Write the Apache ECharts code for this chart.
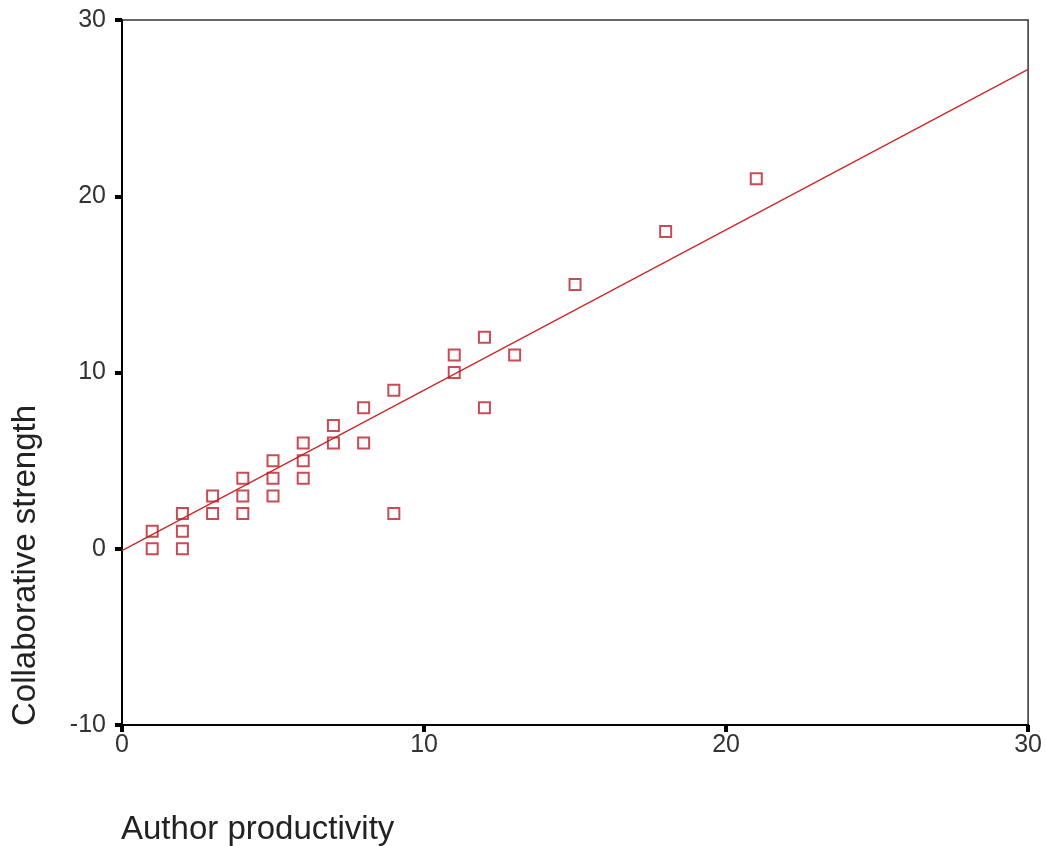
<!DOCTYPE html>
<html>
<head>
<meta charset="utf-8">
<script src="https://cdn.jsdelivr.net/npm/echarts@6/dist/echarts.min.js"></script>
<style>
  html, body { margin: 0; padding: 0; background: #fff; }
  #chart { width: 1045px; height: 846px; }
</style>
</head>
<body>
<div id="chart"></div>
<script>
// author productivity (x) vs collaborative strength (y)
var productivity = [1, 1, 2, 2, 2, 3, 3, 4, 4, 4, 5, 5, 5, 6, 6, 6, 7, 7, 8, 8, 9, 9, 11, 11, 12, 12, 13, 15, 18, 21];
var strength     = [1, 0, 2, 1, 0, 3, 2, 4, 3, 2, 5, 4, 3, 6, 5, 4, 7, 6, 8, 6, 9, 2, 11, 10, 12, 8, 11, 15, 18, 21];

// fitted line ends
var fitX = [0, 30];
var fitY = [-0.1, 27.2];

var xTicks = [0, 10, 20, 30];
var yTicks = [-10, 0, 10, 20, 30];

var points = productivity.map(function (x, i) { return [x, strength[i]]; });
var fitLine = fitX.map(function (x, i) { return [x, fitY[i]]; });

var font = 'Liberation Sans, Arial, sans-serif';

var chart = echarts.init(document.getElementById('chart'));
chart.setOption({
  backgroundColor: '#fff',
  animation: false,
  grid: {
    left: 122, right: 15, top: 20, bottom: 121,
    show: true, borderColor: '#333', borderWidth: 1.5, backgroundColor: 'transparent'
  },
  xAxis: {
    type: 'value',
    min: xTicks[0], max: xTicks[xTicks.length - 1], interval: 10,
    splitLine: { show: false },
    axisLine: { onZero: false, lineStyle: { color: '#000', width: 2 } },
    axisTick: { length: 7, lineStyle: { color: '#000', width: 4 } },
    axisLabel: { color: '#333', fontSize: 25, fontFamily: font, margin: 8 }
  },
  yAxis: {
    type: 'value',
    min: yTicks[0], max: yTicks[yTicks.length - 1], interval: 10,
    splitLine: { show: false },
    axisLine: { onZero: false, lineStyle: { color: '#000', width: 2 } },
    axisTick: { length: 7, lineStyle: { color: '#000', width: 4 } },
    axisLabel: { color: '#333', fontSize: 25, fontFamily: font, margin: 16 }
  },
  graphic: [
    {
      type: 'text', x: 121, y: 830,
      style: { text: 'Author productivity', fill: '#222', fontSize: 33, fontFamily: font, textAlign: 'left', textVerticalAlign: 'middle' }
    },
    {
      type: 'text', x: 26, y: 726, rotation: Math.PI / 2,
      style: { text: 'Collaborative strength', fill: '#222', fontSize: 33, fontFamily: font, textAlign: 'left', textVerticalAlign: 'middle' }
    }
  ],
  series: [
    {
      type: 'line',
      data: fitLine,
      showSymbol: false,
      lineStyle: { color: '#cc2a2a', width: 1.4 },
      z: 2
    },
    {
      type: 'scatter',
      data: points,
      symbol: 'rect',
      symbolSize: 11,
      itemStyle: { color: 'rgba(255,255,255,0)', borderColor: '#bc1e2a', borderWidth: 2 },
      z: 3
    }
  ]
});
</script>
</body>
</html>
